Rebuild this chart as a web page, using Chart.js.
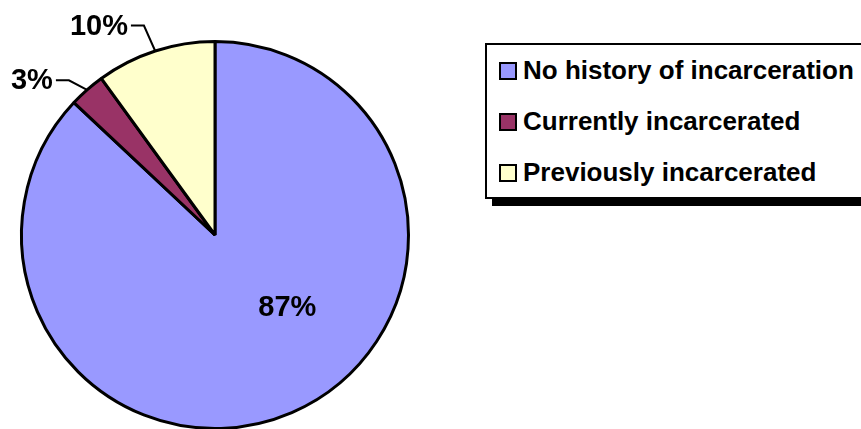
<!DOCTYPE html>
<html>
<head>
<meta charset="utf-8">
<script src="https://cdn.jsdelivr.net/npm/chart.js@4/dist/chart.umd.min.js"></script>
<style>
  html, body { margin: 0; padding: 0; background: #fff; overflow: hidden; width: 861px; height: 429px; }
  #wrap { position: absolute; left: 0; top: 0; width: 430px; height: 440px; }
  #legend {
    position: absolute; left: 485px; top: 43px; width: 400px; height: 152px;
    border: 2px solid #000; background: #fff; box-shadow: 7px 7px 0 #000;
    font-family: "Liberation Sans", Arial, sans-serif; font-weight: bold; font-size: 26px; color: #000;
  }
  .item { position: absolute; left: 12px; height: 30px; line-height: 30px; white-space: nowrap; }
  .swatch { position: absolute; left: 0; top: 7px; width: 14px; height: 14px; border: 2px solid #000; }
  .label { position: absolute; left: 24px; top: 0; }
</style>
</head>
<body>
<div id="wrap"><canvas id="pie"></canvas></div>
<div id="legend"></div>
<script>
// Slices, clockwise from twelve o'clock
const categories = ['No history of incarceration', 'Currently incarcerated', 'Previously incarcerated'];
const shares = [87, 3, 10];
const sliceColors = ['#9999FF', '#993366', '#FFFFCC'];

// Where each percentage label sits, relative to the pie centre in radius units,
// and whether it is joined to its slice by a leader line.
const labelPlacement = [
  { dx: 0.374, dy: 0.379, leader: false },
  { dx: -0.946, dy: -0.794, leader: true },
  { dx: -0.60, dy: -1.077, leader: true }
];

// Legend built from the same category list
const legend = document.getElementById('legend');
const rowTops = [10, 61, 112];
categories.forEach((name, i) => {
  const item = document.createElement('div');
  item.className = 'item';
  item.style.top = rowTops[i] + 'px';
  item.innerHTML = '<span class="swatch" style="background:' + sliceColors[i] + '"></span>' +
                   '<span class="label"></span>';
  item.querySelector('.label').textContent = name;
  legend.appendChild(item);
});

const LABEL_FONT = 'bold 29px "Liberation Sans", Arial, sans-serif';

const percentLabels = {
  id: 'percentLabels',
  afterDatasetsDraw(chart) {
    const ctx = chart.ctx;
    const meta = chart.getDatasetMeta(0);
    const total = shares.reduce((a, b) => a + b, 0);
    ctx.save();
    ctx.font = LABEL_FONT;
    ctx.fillStyle = '#000';
    ctx.strokeStyle = '#000';
    ctx.lineWidth = 2;
    ctx.textAlign = 'center';
    ctx.textBaseline = 'middle';
    meta.data.forEach((arc, i) => {
      const { x, y, startAngle, endAngle, outerRadius } = arc.getProps(['x', 'y', 'startAngle', 'endAngle', 'outerRadius'], true);
      const text = Math.round(shares[i] / total * 100) + '%';
      const p = labelPlacement[i];
      const tx = x + p.dx * outerRadius;
      const ty = y + p.dy * outerRadius;
      ctx.fillText(text, tx, ty);
      if (p.leader) {
        const mid = (startAngle + endAngle) / 2;
        const ex = x + Math.cos(mid) * outerRadius;
        const ey = y + Math.sin(mid) * outerRadius;
        const w = ctx.measureText(text).width;
        const sx = tx + w / 2 + 3;
        const elbowX = sx + 13;
        ctx.beginPath();
        ctx.moveTo(sx, ty - 1);
        ctx.lineTo(elbowX, ty - 1);
        ctx.lineTo(ex, ey);
        ctx.stroke();
      }
    });
    ctx.restore();
  }
};

new Chart(document.getElementById('pie'), {
  type: 'pie',
  data: {
    labels: categories,
    datasets: [{
      data: shares,
      backgroundColor: sliceColors,
      borderColor: '#000',
      borderWidth: 3,
      borderAlign: 'center'
    }]
  },
  options: {
    responsive: true,
    maintainAspectRatio: false,
    animation: false,
    rotation: 0,
    layout: { padding: { left: 20, top: 40, right: 20, bottom: 10 } },
    plugins: { legend: { display: false }, tooltip: { enabled: false } }
  },
  plugins: [percentLabels]
});
</script>
</body>
</html>
